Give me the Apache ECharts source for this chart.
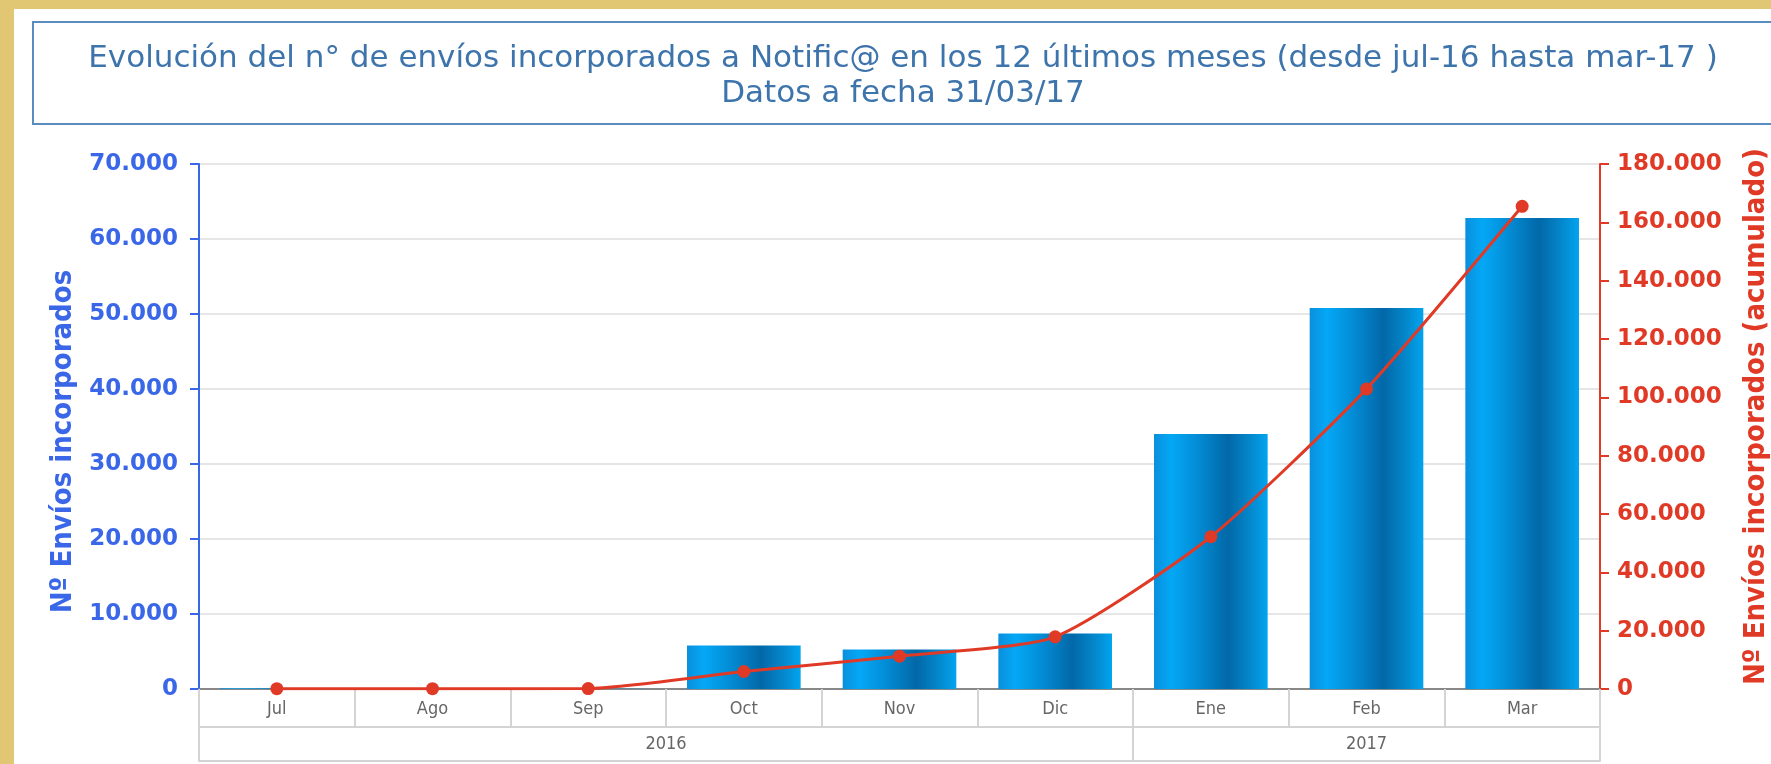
<!DOCTYPE html>
<html>
<head>
<meta charset="utf-8">
<script src="https://cdn.jsdelivr.net/npm/echarts@6/dist/echarts.min.js"></script>
<style>
  html, body { margin: 0; padding: 0; }
  #chart { width: 1771px; height: 764px; }
</style>
</head>
<body>
<div id="chart"></div>
<script>
// datos
var months = ["Jul", "Ago", "Sep", "Oct", "Nov", "Dic", "Ene", "Feb", "Mar"];
var years = ["2016", "2017"];
var yearSpans = [6, 3];
var envios = [100, 0, 50, 5800, 5270, 7400, 34000, 50800, 62800];
var acumulado = [100, 100, 150, 6000, 11250, 17900, 52200, 102900, 165500];

var blue = "#3a66e8";
var red = "#e03a26";
var gray = "#d4d4d4";

function fmt(v) {
  return String(v).replace(/\B(?=(\d{3})+(?!\d))/g, ".");
}

// limites y centros de los años en el eje inferior
var yearBounds = [0];
var yearCenters = [];
yearSpans.forEach(function (s, i) {
  yearCenters.push(yearBounds[i] + s / 2);
  yearBounds.push(yearBounds[i] + s);
});

var chart = echarts.init(document.getElementById("chart"));
chart.setOption({
  backgroundColor: "#e1c673",
  animation: false,
  graphic: [
    { type: "rect", z: -10, shape: { x: 14, y: 9, width: 1771, height: 764 }, style: { fill: "#fff" } },
    { type: "rect", z: -9, shape: { x: 33, y: 22, width: 1771, height: 102 }, style: { fill: "#fff", stroke: "#5b8cc0", lineWidth: 2 } }
  ],
  title: {
    text: "Evolución del n° de envíos incorporados a Notific@ en los 12 últimos meses (desde jul-16 hasta mar-17 )\nDatos a fecha 31/03/17",
    left: 903,
    top: 41,
    textAlign: "center",
    padding: 0,
    textStyle: {
      fontFamily: "DejaVu Sans",
      fontWeight: "normal",
      fontSize: 31,
      lineHeight: 35,
      color: "#3d74ab"
    }
  },
  grid: { left: 199, right: 171, top: 164, bottom: 75, containLabel: false, outerBoundsMode: "none" },
  xAxis: [
    {
      type: "category",
      data: months,
      position: "bottom",
      axisLine: { onZero: false, lineStyle: { color: "#888", width: 2 } },
      axisTick: { show: true, length: 38, interval: 0, lineStyle: { color: gray, width: 2 } },
      axisLabel: {
        interval: 0,
        margin: 11,
        fontFamily: "DejaVu Sans Condensed",
        fontSize: 18,
        color: "#666"
      }
    },
    {
      type: "value",
      min: 0,
      max: 9,
      position: "bottom",
      offset: 38,
      splitLine: { show: false },
      axisLine: { show: true, onZero: false, lineStyle: { color: gray, width: 2 } },
      axisTick: { show: true, customValues: yearBounds, length: 34, lineStyle: { color: gray, width: 2 } },
      axisLabel: {
        customValues: yearCenters,
        margin: 8,
        fontFamily: "DejaVu Sans Condensed",
        fontSize: 18,
        color: "#666",
        formatter: function (v) { return years[yearCenters.indexOf(v)]; }
      }
    },
    {
      type: "value",
      min: 0,
      max: 9,
      position: "bottom",
      offset: 72,
      splitLine: { show: false },
      axisLine: { show: true, onZero: false, lineStyle: { color: gray, width: 2 } },
      axisTick: { show: false },
      axisLabel: { show: false }
    }
  ],
  yAxis: [
    {
      type: "value",
      position: "left",
      min: 0,
      max: 70000,
      interval: 10000,
      name: "Nº Envíos incorporados",
      nameLocation: "middle",
      nameRotate: 90,
      nameGap: 110,
      nameTextStyle: { fontFamily: "DejaVu Sans Condensed", fontWeight: "bold", fontSize: 29, color: blue, padding: [0, 30, 0, 0] },
      axisLine: { show: true, onZero: false, lineStyle: { color: blue, width: 2 } },
      axisTick: { show: true, length: 9, lineStyle: { color: blue, width: 2 } },
      axisLabel: { margin: 21, fontFamily: "DejaVu Sans", fontWeight: "bold", fontSize: 23, color: blue, formatter: fmt },
      splitLine: { lineStyle: { color: "#e6e6e6", width: 2 } }
    },
    {
      type: "value",
      position: "right",
      min: 0,
      max: 180000,
      interval: 20000,
      name: "Nº Envíos incorporados (acumulado)",
      nameLocation: "middle",
      nameRotate: 90,
      nameGap: 142,
      nameTextStyle: { fontFamily: "DejaVu Sans Condensed", fontWeight: "bold", fontSize: 29, color: red, padding: [0, 0, 0, 20] },
      axisLine: { show: true, onZero: false, lineStyle: { color: red, width: 2 } },
      axisTick: { show: true, length: 9, lineStyle: { color: red, width: 2 } },
      axisLabel: { margin: 17, fontFamily: "DejaVu Sans", fontWeight: "bold", fontSize: 23, color: red, formatter: fmt },
      splitLine: { show: false }
    }
  ],
  series: [
    {
      name: "Envíos",
      type: "bar",
      xAxisIndex: 0,
      yAxisIndex: 0,
      data: envios,
      barCategoryGap: "27%",
      itemStyle: {
        color: new echarts.graphic.LinearGradient(0, 0, 1, 0, [
          { offset: 0, color: "#0a8fdc" },
          { offset: 0.15, color: "#04a8f6" },
          { offset: 0.35, color: "#0390da" },
          { offset: 0.65, color: "#0268a8" },
          { offset: 0.85, color: "#0488cc" },
          { offset: 1, color: "#02a4f0" }
        ])
      }
    },
    {
      name: "Acumulado",
      type: "line",
      xAxisIndex: 0,
      yAxisIndex: 1,
      data: acumulado,
      smooth: 0.2,
      symbol: "circle",
      symbolSize: 13,
      lineStyle: { color: red, width: 3 },
      itemStyle: { color: red }
    }
  ]
});
</script>
</body>
</html>
